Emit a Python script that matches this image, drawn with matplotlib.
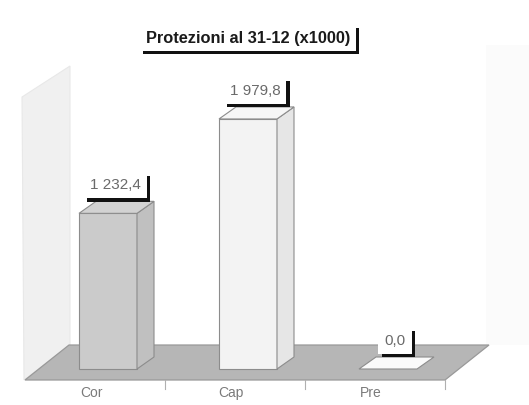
import matplotlib
matplotlib.use("Agg")
import matplotlib.pyplot as plt
from matplotlib.patches import Polygon
import matplotlib.patheffects as pe

# ---- data -------------------------------------------------------------
categories = ["Cor", "Cap", "Pre"]
values = [1232.4, 1979.8, 0.0]
value_labels = ["1 232,4", "1 979,8", "0,0"]
title = "Protezioni al 31-12 (x1000)"

# ---- figure / scales --------------------------------------------------
W, H = 529, 405
fig = plt.figure(figsize=(W / 100, H / 100), dpi=100)
ax = fig.add_axes([0, 0, 1, 1])

SLOT_PX = 140.0      # pixels per category slot
VAL_PX = 0.1263      # pixels per value unit
ORIGIN = (95, 369)   # pixel position of (category 0, value 0)
ax.set_xlim(-ORIGIN[0] / SLOT_PX, (W - ORIGIN[0]) / SLOT_PX)
ax.set_ylim(-(H - ORIGIN[1]) / VAL_PX, ORIGIN[1] / VAL_PX)
ax.axis("off")


def dx(px):
    return px / SLOT_PX


def dy(px):
    return px / VAL_PX


def P(xp, yp):
    """Pixel position (y measured downwards) -> data coordinates."""
    return ((xp - ORIGIN[0]) / SLOT_PX, (ORIGIN[1] - yp) / VAL_PX)


# ---- walls and floor --------------------------------------------------
ax.add_patch(Polygon([P(486, 45), P(529, 45), P(529, 345), P(486, 345)],
                     closed=True, fc="#fbfbfb", ec="none", zorder=0))
ax.add_patch(Polygon([P(24, 380), P(70, 345), P(70, 66), P(22, 97)],
                     closed=True, fc="#f0f0f0", ec="#e8e8e8", lw=0.8, zorder=1))

floor_front = dy(-11)
depth_x, depth_y = dx(44), dy(35)
fl, fr = -0.5, len(categories) - 0.5
ax.add_patch(Polygon([(fl, floor_front), (fr, floor_front),
                      (fr + depth_x, floor_front + depth_y),
                      (fl + depth_x, floor_front + depth_y)],
                     closed=True, fc="#b6b6b6", ec="#999999", lw=0.9, zorder=2))

# separators and category labels under the floor
for k in range(1, len(categories) + 1):
    x = k - 0.5
    ax.plot([x, x], [floor_front, floor_front - dy(9)], color="#b0b0b0",
            lw=0.8, zorder=2)
for i, name in enumerate(categories):
    ax.text(i - dx(4), floor_front - dy(13), name, ha="center", va="center",
            fontsize=10, color="#7a7a7a", family="Liberation Sans", zorder=5)

# ---- bars -------------------------------------------------------------
bar_off = dx(13)
half_w = dx(29)
bx, by = dx(17), dy(12)
front_c = ["#cbcbcb", "#f3f3f3", "#fbfbfb"]
side_c = ["#c0c0c0", "#e6e6e6", "#f0f0f0"]
top_c = ["#d2d2d2", "#f6f6f6", "#fafafa"]
edge = "#8c8c8c"

for i, v in enumerate(values):
    xc = i + bar_off
    xl, xr = xc - half_w, xc + half_w
    if v > 0:
        ax.add_patch(Polygon([(xl, 0), (xr, 0), (xr, v), (xl, v)], closed=True,
                             fc=front_c[i], ec=edge, lw=0.8, zorder=3))
        ax.add_patch(Polygon([(xr, 0), (xr + bx, by), (xr + bx, v + by), (xr, v)],
                             closed=True, fc=side_c[i], ec=edge, lw=0.8, zorder=3))
    ax.add_patch(Polygon([(xl, v), (xr, v), (xr + bx, v + by), (xl + bx, v + by)],
                         closed=True, fc=top_c[i], ec=edge, lw=0.8, zorder=3))

    t = ax.text(xc + dx(7), v + dy(28), value_labels[i], ha="center", va="center",
                fontsize=11, color="#6a6a6a", family="Liberation Sans", zorder=6,
                bbox=dict(boxstyle="square,pad=0.4", fc="white", ec="none"))
    t.get_bbox_patch().set_path_effects([
        pe.SimplePatchShadow(offset=(2.4, -2.4), shadow_rgbFace="#111111", alpha=1.0),
        pe.Normal()])

# ---- title ------------------------------------------------------------
tt = ax.text(*P(248, 38), title, ha="center", va="center", fontsize=11.8,
             fontweight="bold", color="#1a1a1a", family="Liberation Sans", zorder=6,
             bbox=dict(boxstyle="square,pad=0.35", fc="white", ec="none"))
tt.get_bbox_patch().set_path_effects([
    pe.SimplePatchShadow(offset=(2.2, -2.2), shadow_rgbFace="#111111", alpha=1.0),
    pe.Normal()])

fig.savefig("out.png", dpi=100, facecolor="white")
